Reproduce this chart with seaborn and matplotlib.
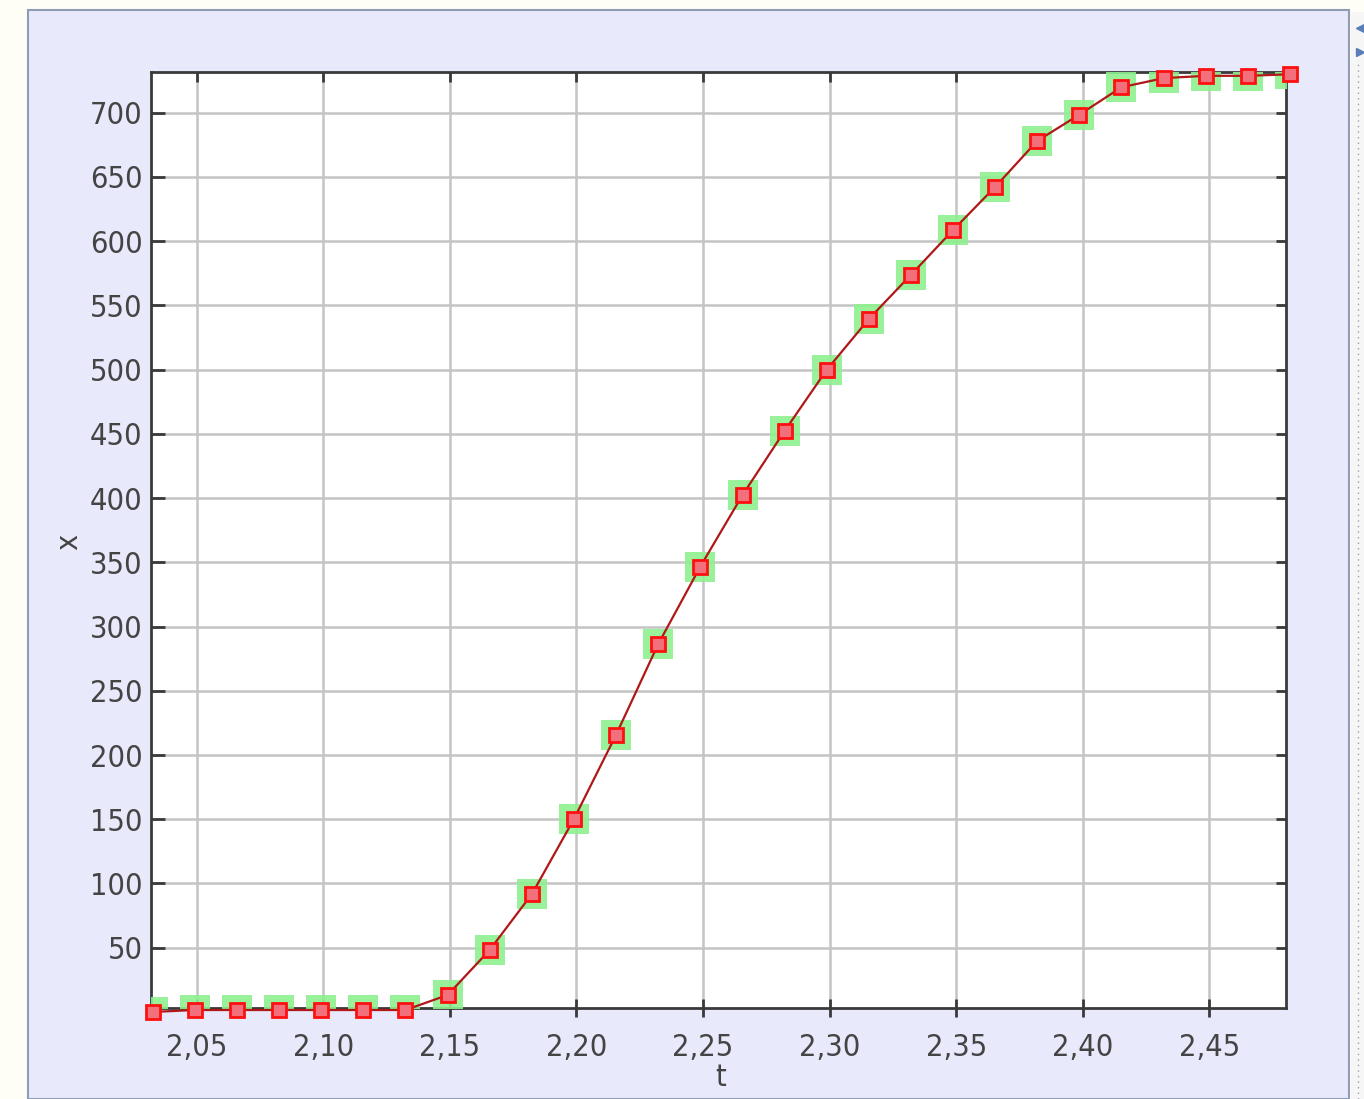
import matplotlib
matplotlib.use("Agg")
import matplotlib.pyplot as plt
from matplotlib import font_manager as fm
from matplotlib.lines import TICKDOWN
from matplotlib.patches import Rectangle
import seaborn as sns
import pandas as pd

# time samples and coordinate values of the trajectory
t_values = [2.0326, 2.0492, 2.0659, 2.0825, 2.0992, 2.1158, 2.1324, 2.1491,
            2.1657, 2.1824, 2.1990, 2.2156, 2.2323, 2.2489, 2.2656, 2.2822,
            2.2988, 2.3155, 2.3321, 2.3488, 2.3654, 2.3820, 2.3987, 2.4153,
            2.4320, 2.4486, 2.4652, 2.4819]
x_values = [0.0, 1.5, 1.5, 1.5, 1.5, 1.5, 1.5, 13.2,
            48.2, 91.8, 150.2, 215.6, 286.4, 346.6, 402.4, 452.2,
            499.7, 539.4, 573.7, 608.7, 642.2, 678.0, 698.5, 719.8,
            726.9, 728.7, 728.7, 729.9]

x_ticks = [2.05, 2.10, 2.15, 2.20, 2.25, 2.30, 2.35, 2.40, 2.45]
x_tick_labels = ["2,05", "2,10", "2,15", "2,20", "2,25", "2,30", "2,35", "2,40", "2,45"]
y_ticks = [50, 100, 150, 200, 250, 300, 350, 400, 450, 500, 550, 600, 650, 700]
y_tick_labels = [str(v) for v in y_ticks]

df = pd.DataFrame({"t": t_values, "x": x_values})

sns.set_theme(style="white")
available = {f.name for f in fm.fontManager.ttflist}
if "Liberation Sans Narrow" in available:
    plt.rcParams["font.family"] = ["Liberation Sans Narrow", "DejaVu Sans"]
    plt.rcParams["font.stretch"] = "normal"
else:
    plt.rcParams["font.family"] = ["DejaVu Sans"]
    plt.rcParams["font.stretch"] = "condensed"

W, H = 1364, 1099
fig = plt.figure(figsize=(W / 100, H / 100), dpi=100, facecolor="#FFFEF6")

# window panel behind the plot
fig.patches.append(Rectangle((28 / W, 0), (1349 - 28) / W, (H - 10) / H,
                             transform=fig.transFigure, facecolor="#E9E9FC",
                             edgecolor="#8E9CB4", linewidth=1.5, zorder=-10))
# side strip at the right edge
fig.patches.append(Rectangle((1351 / W, 0), 13 / W, (H - 12) / H,
                             transform=fig.transFigure, facecolor="#F6F6F6",
                             edgecolor="none", zorder=-10))
fig.lines.append(plt.Line2D([1358 / W, 1358 / W], [0, (H - 60) / H],
                            transform=fig.transFigure, color="#9AA0A8",
                            linestyle=(0, (1, 3)), linewidth=1, zorder=-5))
fig.lines.append(plt.Line2D([1360 / W], [(H - 28) / H], transform=fig.transFigure,
                            marker="<", markersize=6, color="#5A7FB8",
                            linestyle="none", zorder=-5))
fig.lines.append(plt.Line2D([1360 / W], [(H - 52) / H], transform=fig.transFigure,
                            marker=">", markersize=6, color="#5A7FB8",
                            linestyle="none", zorder=-5))

left, right = 151 / W, 1286 / W
bottom, top = (H - 1007.7) / H, (H - 71.7) / H
ax = fig.add_axes([left, bottom, right - left, top - bottom])
ax.set_facecolor("white")

# halo squares (clipped to the plotting area)
sns.scatterplot(data=df, x="t", y="x", ax=ax, marker="s", s=21.5 ** 2,
                color="#8EF08E", alpha=0.9, linewidth=0, zorder=3, legend=False)
# trajectory with sample markers
sns.lineplot(data=df, x="t", y="x", ax=ax, color="#B01818", linewidth=1.6,
             marker="s", markersize=10.5, markeredgewidth=2.0,
             clip_on=False, zorder=4, legend=False)
traj = ax.lines[-1]
traj.set_markeredgecolor("#FF1010")
traj.set_markerfacecolor("#F2707C")
traj.set_markeredgewidth(2.0)

ax.set_xlim(2.0319, 2.4803)
ax.set_ylim(3.3, 731.9)
ax.set_xticks(x_ticks)
ax.set_xticklabels(x_tick_labels)
ax.set_yticks(y_ticks)
ax.set_yticklabels(y_tick_labels)

ax.grid(True, color="#C4C4C4", linewidth=1.8)
ax.set_axisbelow(True)
for side in ["left", "right", "top", "bottom"]:
    ax.spines[side].set_visible(True)
    ax.spines[side].set_color("#3A3A3A")
    ax.spines[side].set_linewidth(2.0)

label_color = "#444444"
ax.tick_params(axis="y", direction="in", length=10, width=2, color="#3A3A3A",
               left=True, right=True, labelsize=22, labelcolor=label_color, pad=6)
ax.tick_params(axis="x", direction="inout", length=13, width=2, color="#3A3A3A",
               bottom=True, top=True, labelsize=22, labelcolor=label_color, pad=12)
for tick in ax.yaxis.get_major_ticks():
    tick.tick2line.set_markersize(7)
for tick in ax.xaxis.get_major_ticks():
    tick.tick2line.set_marker(TICKDOWN)
    tick.tick2line.set_markersize(7)

ax.set_xlabel("t", fontsize=22, color=label_color)
ax.set_ylabel("x", fontsize=22, color=label_color)
ax.xaxis.set_label_coords(0.502, -0.0751)
ax.xaxis.label.set_va("center")
ax.yaxis.set_label_coords(-0.0722, 0.4975)
ax.yaxis.label.set_va("center")

fig.savefig("out.png", dpi=100, facecolor=fig.get_facecolor())
